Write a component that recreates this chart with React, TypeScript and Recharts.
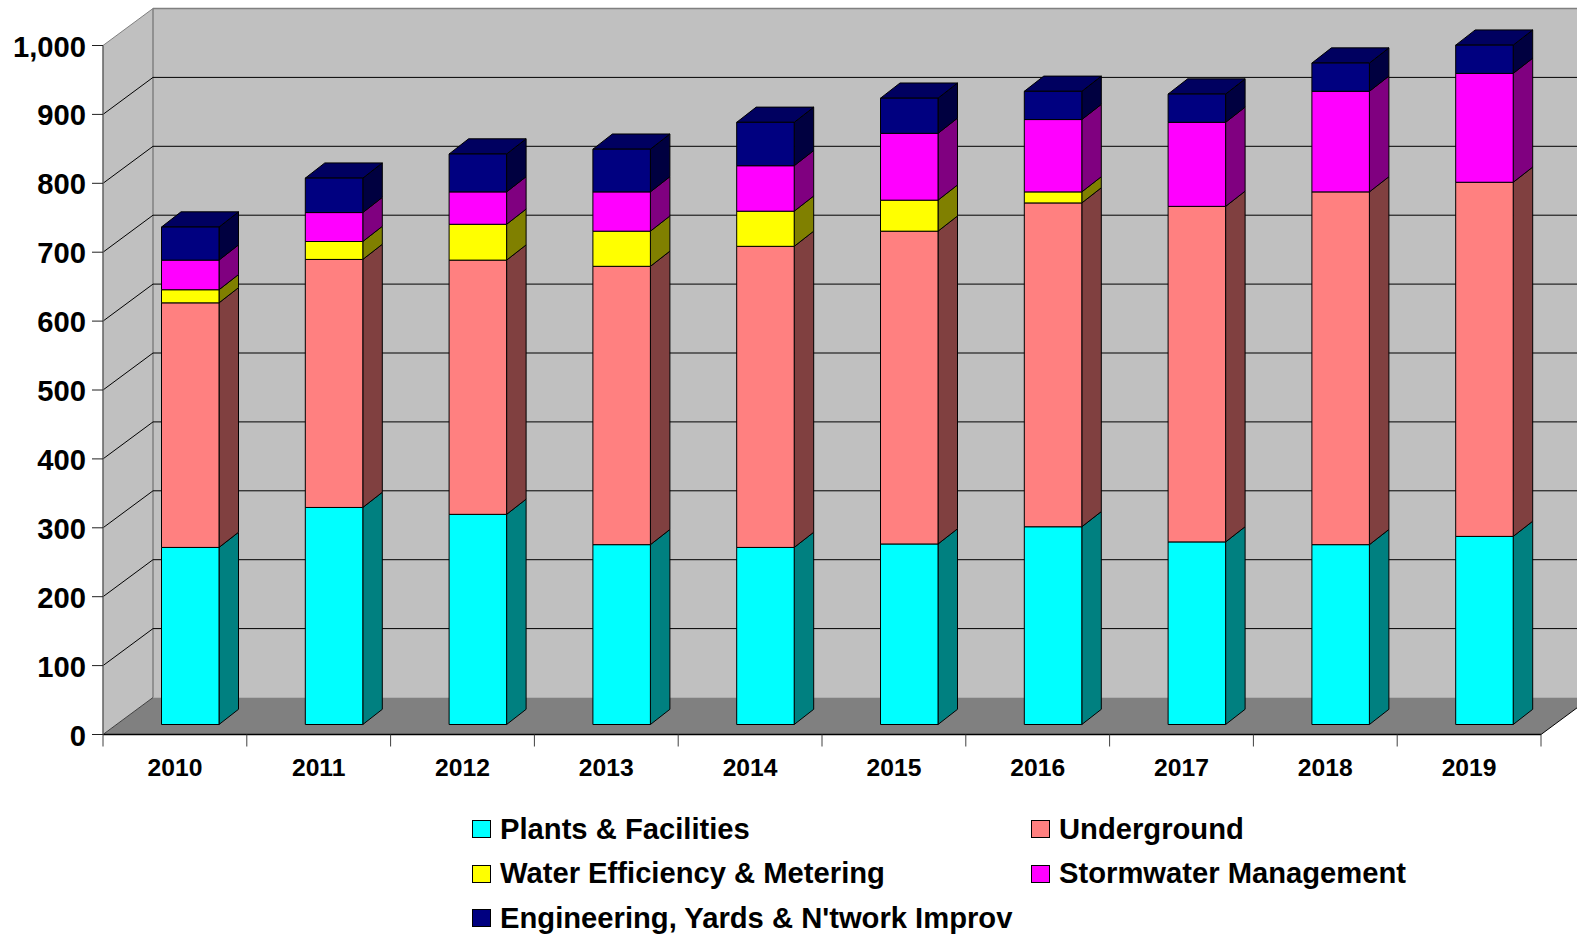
import { BarChart, Bar, XAxis, YAxis, CartesianGrid, Legend, ReferenceArea } from 'recharts';

const years = ['2010', '2011', '2012', '2013', '2014', '2015', '2016', '2017', '2018', '2019'];
const plants = [257, 315, 305, 261, 257, 262, 287, 265, 261, 273];
const underground = [355, 360, 369, 404, 437, 454, 470, 487, 512, 514];
const water = [19, 26, 52, 51, 51, 45, 16, 0, 0, 0];
const stormwater = [43, 42, 47, 57, 66, 97, 105, 122, 146, 158];
const engineering = [48, 50, 55, 62, 63, 51, 41, 41, 41, 41];
const yTicks = [0, 100, 200, 300, 400, 500, 600, 700, 800, 900, 1000];

const chartData = years.map((year, i) => ({
  year,
  'Plants & Facilities': plants[i],
  Underground: underground[i],
  'Water Efficiency & Metering': water[i],
  'Stormwater Management': stormwater[i],
  "Engineering, Yards & N'twork Improv": engineering[i],
}));

const FONT = '"Liberation Sans", Arial, sans-serif';
const WALL_DX = 50;
const WALL_DY = 37;
const BAR_DX = 19.5;
const BAR_DY = 15.2;
const BAR_SHIFT_X = 15.5;
const BAR_SHIFT_Y = 10;

const pts = (list: number[][]) => list.map(p => p.join(',')).join(' ');

function Walls({ x, y, width, height }: any) {
  const b = y + height;
  const r = x + width;
  return (
    <g>
      <polygon points={pts([[x, y], [x + WALL_DX, y - WALL_DY], [x + WALL_DX, b - WALL_DY], [x, b]])} fill='#c0c0c0' />
      <polygon points={pts([[x + WALL_DX, y - WALL_DY], [r + WALL_DX, y - WALL_DY], [r + WALL_DX, b - WALL_DY], [x + WALL_DX, b - WALL_DY]])} fill='#c0c0c0' />
      <polygon points={pts([[x, b], [r, b], [r + WALL_DX, b - WALL_DY], [x + WALL_DX, b - WALL_DY]])} fill='#808080' />
      <line x1={x + WALL_DX} y1={y - WALL_DY} x2={x + WALL_DX} y2={b - WALL_DY} stroke='#808080' strokeWidth={1.5} />
      <line x1={x} y1={b} x2={x + WALL_DX} y2={b - WALL_DY} stroke='#404040' />
      <line x1={r} y1={b} x2={r + WALL_DX} y2={b - WALL_DY} stroke='#000' />
    </g>
  );
}

function GridLine({ x1, y1, x2, y2, index }: any) {
  const isTop = Math.abs(y1 - 45.5) < 1;
  const isBase = Math.abs(y1 - 734.5) < 1;
  if (isBase) return <g key={index} />;
  const color = isTop ? '#808080' : '#000';
  const w = isTop ? 1.5 : 1;
  return (
    <g key={index}>
      <line x1={x1} y1={y1} x2={x1 + WALL_DX} y2={y1 - WALL_DY} stroke={color} strokeWidth={1} />
      <line x1={x1 + WALL_DX} y1={y1 - WALL_DY} x2={x2 + WALL_DX} y2={y2 - WALL_DY} stroke={color} strokeWidth={w} />
    </g>
  );
}

function makeBox(side: string, top?: string) {
  return (props: any) => {
    const { x, y, width, height, fill } = props;
    if (!height || height <= 0) return <g />;
    const l = x + BAR_SHIFT_X;
    const t = y - BAR_SHIFT_Y;
    const r = l + width;
    const b = t + height;
    return (
      <g stroke='#000' strokeWidth={1} strokeLinejoin='round'>
        <polygon points={pts([[r, t], [r + BAR_DX, t - BAR_DY], [r + BAR_DX, b - BAR_DY], [r, b]])} fill={side} />
        {top && (
          <polygon points={pts([[l, t], [l + BAR_DX, t - BAR_DY], [r + BAR_DX, t - BAR_DY], [r, t]])} fill={top} />
        )}
        <rect x={l} y={t} width={width} height={height} fill={fill} />
      </g>
    );
  };
}

function YearTick({ x, payload, index }: any) {
  const band = 143.8;
  const axisY = 734.5;
  return (
    <g>
      {index === 0 && <line x1={x - band / 2} y1={axisY} x2={x - band / 2} y2={axisY + 12} stroke='#404040' />}
      <line x1={x + band / 2} y1={axisY} x2={x + band / 2} y2={axisY + 12} stroke='#404040' />
      <text x={x} y={776} textAnchor='middle' fontFamily={FONT} fontWeight={700} fontSize={24.7} fill='#000'>
        {payload.value}
      </text>
    </g>
  );
}

function ValueTick({ x, y, payload }: any) {
  return (
    <text x={x} y={y + 11} textAnchor='end' fontFamily={FONT} fontWeight={700} fontSize={29.2} fill='#000'>
      {payload.value.toLocaleString('en-US')}
    </text>
  );
}

function LegendBox({ payload }: any) {
  return (
    <div style={{ display: 'grid', gridTemplateColumns: '559px auto', rowGap: 0, fontFamily: FONT, fontWeight: 700, fontSize: 29.2 }}>
      {(payload || []).map((entry: any) => (
        <div key={entry.value} style={{ display: 'flex', alignItems: 'center', height: 44.5, color: '#000', whiteSpace: 'nowrap' }}>
          <span style={{ display: 'inline-block', boxSizing: 'border-box', width: 19, height: 18, marginRight: 9, background: entry.color, border: '1px solid #000' }} />
          {entry.value}
        </div>
      ))}
    </div>
  );
}

export default function App() {
  return (
    <div style={{ position: 'absolute', left: 0, top: 0, width: 1577, height: 935, overflow: 'hidden', background: '#fff' }}>
      <BarChart
        width={1577}
        height={935}
        data={chartData}
        margin={{ top: 45.5, right: 36, left: 0, bottom: 140.5 }}
        barCategoryGap={0}
        barSize={57.5}
      >
        <ReferenceArea y1={0} y2={1000} shape={<Walls />} fill='none' stroke='none' zIndex={-200} />
        <CartesianGrid vertical={false} horizontal={(p: any) => <GridLine {...p} />} />
        <XAxis
          dataKey='year'
          height={60}
          interval={0}
          tickLine={false}
          axisLine={{ stroke: '#000', strokeWidth: 1.5 }}
          tick={<YearTick />}
        />
        <YAxis
          width={103}
          domain={[0, 1000]}
          ticks={yTicks}
          interval={0}
          tickSize={11}
          tickMargin={6}
          tickLine={{ stroke: '#202020' }}
          axisLine={{ stroke: '#606060', strokeWidth: 1.5 }}
          tick={<ValueTick />}
        />
        <Legend
          layout='horizontal'
          align='center'
          verticalAlign='middle'
          itemSorter={null}
          content={<LegendBox />}
          wrapperStyle={{ left: 472, top: 807, width: 1000, height: 130 }}
        />
        <Bar dataKey='Plants & Facilities' stackId='a' fill='#00ffff' shape={makeBox('#008080')} isAnimationActive={false} />
        <Bar dataKey='Underground' stackId='a' fill='#ff8080' shape={makeBox('#804040')} isAnimationActive={false} />
        <Bar dataKey='Water Efficiency & Metering' stackId='a' fill='#ffff00' shape={makeBox('#808000')} isAnimationActive={false} />
        <Bar dataKey='Stormwater Management' stackId='a' fill='#ff00ff' shape={makeBox('#800080')} isAnimationActive={false} />
        <Bar dataKey="Engineering, Yards & N'twork Improv" stackId='a' fill='#000080' shape={makeBox('#000040', '#000060')} isAnimationActive={false} />
      </BarChart>
    </div>
  );
}
